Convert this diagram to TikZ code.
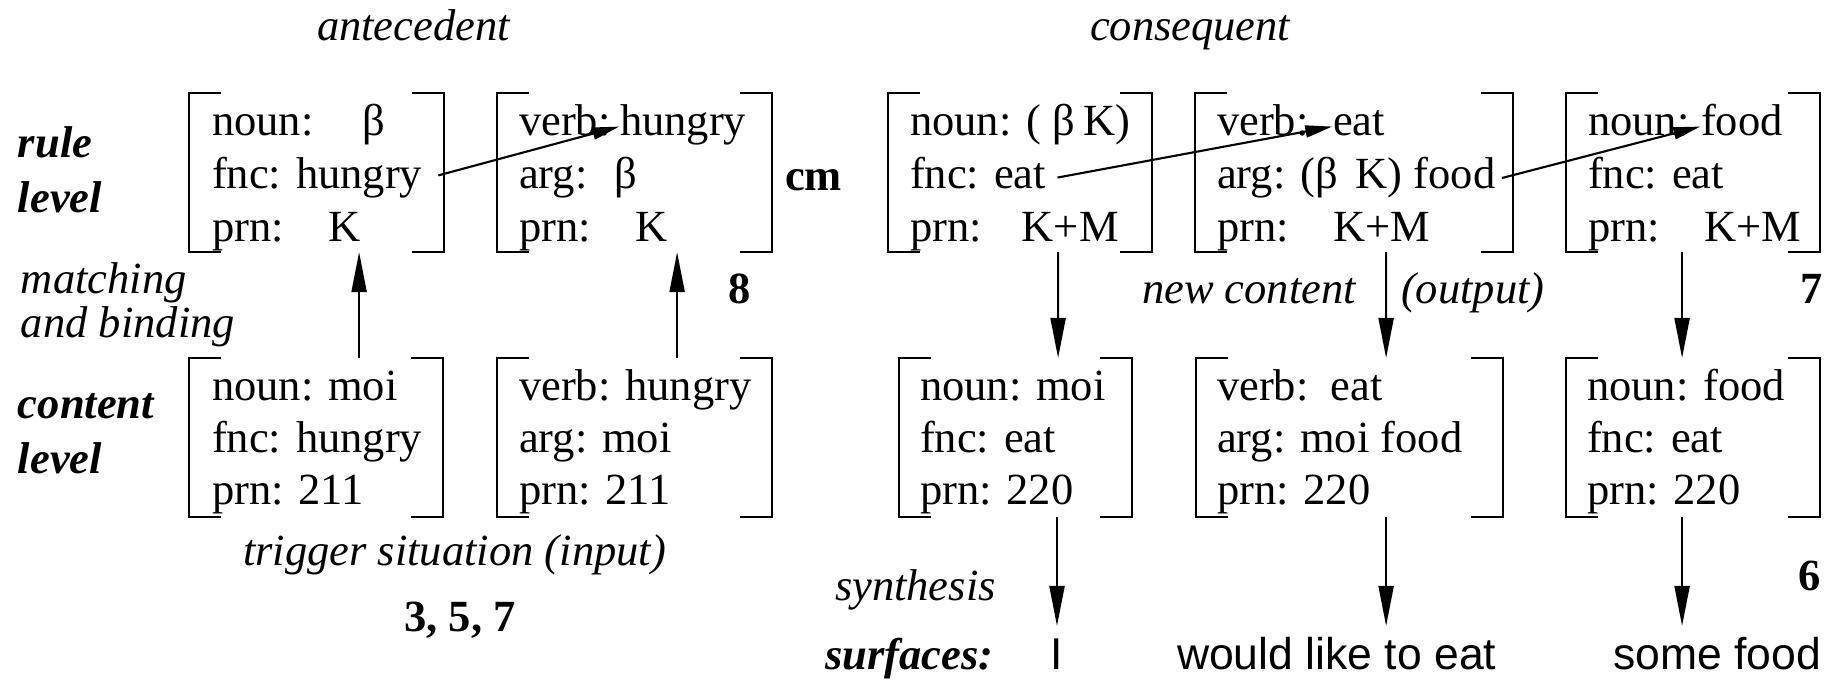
\documentclass[tikz,border=0pt]{standalone}
\usepackage{fontspec}
\setmainfont{Liberation Serif}
\newfontfamily\surffont{Liberation Sans}
\usetikzlibrary{arrows.meta}

\newcommand{\fs}{\fontsize{12.66}{15}\selectfont}
\newcommand{\recbrk}[1]{%
  \draw[brk] (#1.north west) ++(32,0) -- (#1.north west) -- (#1.south west) -- ++(32,0);
  \draw[brk] (#1.north east) ++(-32,0) -- (#1.north east) -- (#1.south east) -- ++(-32,0);}

\tikzset{
  rec/.style={anchor=north west, minimum height=1.59cm, inner sep=0pt, outer sep=0pt},
  brk/.style={line width=0.6pt},
  fld/.style={anchor=text, inner sep=0pt, text height=0.7em, text depth=0.22em, font=\fs},
  lbl/.style={anchor=text, inner sep=0pt, font=\fs\itshape},
  lvl/.style={anchor=text, inner sep=0pt, font=\fs\bfseries\itshape},
  num/.style={anchor=base, inner sep=0pt, font=\fs\bfseries},
  surf/.style={anchor=text, inner sep=0pt, text height=0.72em, font=\surffont\fs},
  link/.style={line width=0.6pt, -{Triangle[length=0.27cm,width=0.12cm]}},
  flow/.style={line width=0.6pt, -{Triangle[length=0.4cm,width=0.15cm]}}
}

\begin{document}
\begin{tikzpicture}[x=0.01cm, y=-0.01cm]
\useasboundingbox (0,0) rectangle (1833,681);

% headings and side labels
\node[lbl] (ante) at (317,40) {antecedent};
\node[lbl] (cons) at (1090,40) {consequent};
\node[lvl] (rule1) at (18,157) {rule};
\node[lvl] (rule2) at (18,212) {level};
\node[lbl] (match1) at (21,293) {matching};
\node[lbl] (match2) at (21,337) {and binding};
\node[lvl] (cont1) at (18,418) {content};
\node[lvl] (cont2) at (18,473) {level};
\node[num, anchor=text] (cm) at (785,190) {cm};

% rule level
\node[rec, minimum width=2.55cm] (ra) at (189,93) {};
\node[rec, minimum width=2.75cm] (rb) at (497,93) {};
\node[rec, minimum width=2.64cm] (rc) at (888,93) {};
\node[rec, minimum width=3.18cm] (rd) at (1195,93) {};
\node[rec, minimum width=2.54cm] (re) at (1566,93) {};

\node[fld] (ra1) at (212,135) {noun:\hspace{1.1em}β};
\node[fld] (ra2) at (212,188) {fnc: hungry};
\node[fld] (ra3) at (212,241) {prn:\hspace{1em}K};

\node[fld] (rb1) at (519,135) {verb:};
\node[fld] (rb1v) at (620,135) {hungry};
\node[fld] (rb2) at (519,188) {arg:\hspace{0.6em}β};
\node[fld] (rb3) at (519,241) {prn:\hspace{1em}K};

\node[fld] (rc1) at (910,135) {noun: ( β\hspace{0.2em}K)};
\node[fld] (rc2) at (910,188) {fnc: eat};
\node[fld] (rc3) at (910,241) {prn:\hspace{0.9em}K+M};

\node[fld] (rd1) at (1217,135) {verb:};
\node[fld] (rd1v) at (1333,135) {eat};
\node[fld] (rd2) at (1217,188) {arg: (β\hspace{0.4em}K) food};
\node[fld] (rd3) at (1217,241) {prn:\hspace{1em}K+M};

\node[fld] (re1) at (1588,135) {noun:};
\node[fld] (re1v) at (1701,135) {food};
\node[fld] (re2) at (1588,188) {fnc: eat};
\node[fld] (re3) at (1588,241) {prn:\hspace{1em}K+M};

% content level
\node[rec, minimum width=2.54cm] (ca) at (189,358) {};
\node[rec, minimum width=2.75cm] (cb) at (497,358) {};
\node[rec, minimum width=2.33cm] (cc) at (899,358) {};
\node[rec, minimum width=3.07cm] (cd) at (1196,358) {};
\node[rec, minimum width=2.54cm] (ce) at (1566,358) {};

\node[fld] (ca1) at (212,400) {noun: moi};
\node[fld] (ca2) at (212,452) {fnc: hungry};
\node[fld] (ca3) at (212,504) {prn: 211};

\node[fld] (cb1) at (519,400) {verb: hungry};
\node[fld] (cb2) at (519,452) {arg: moi};
\node[fld] (cb3) at (519,504) {prn: 211};

\node[fld] (cc1) at (920,400) {noun: moi};
\node[fld] (cc2) at (920,452) {fnc: eat};
\node[fld] (cc3) at (920,504) {prn: 220};

\node[fld] (cd1) at (1217,400) {verb:\hspace{0.5em}eat};
\node[fld] (cd2) at (1217,452) {arg: moi food};
\node[fld] (cd3) at (1217,504) {prn: 220};

\node[fld] (ce1) at (1587,400) {noun: food};
\node[fld] (ce2) at (1587,452) {fnc: eat};
\node[fld] (ce3) at (1587,504) {prn: 220};

\foreach \b in {ra,rb,rc,rd,re,ca,cb,cc,cd,ce} {\recbrk{\b}}

% other labels
\node[num] (n8) at (740,303) {8};
\node[num] (n7) at (1812,303) {7};
\node[num] (n6) at (1810,590) {6};
\node[lbl] (newc) at (1142,303) {new content};
\node[lbl] (outp) at (1401,303) {(output)};
\node[lbl] (trig) at (243,565) {trigger situation (input)};
\node[num] (n357) at (460,631) {3, 5, 7};
\node[lbl] (synth) at (835,600) {synthesis};
\node[lvl] (surfl) at (825,669) {surfaces:};
\node[surf, anchor=base] (sI) at (1057,669) {I};
\node[surf] (swould) at (1177,669) {would like to eat};
\node[surf] (sfood) at (1613,669) {some food};

% connectors
\draw[link, shorten <=0.16cm] (ra2.east) -- (rb1v.west);
\draw[link, shorten <=0.11cm] (rc2.east) -- (rd1v.west);
\draw[link, shorten <=0.06cm] (rd2.east) -- (re1v.west);

\draw[flow] ([xshift=1.7cm]ca.north west) -- ([xshift=1.7cm]ra.south west);
\draw[flow] ([xshift=1.8cm]cb.north west) -- ([xshift=1.8cm]rb.south west);
\draw[flow] ([xshift=1.7cm]rc.south west) -- ([xshift=1.59cm]cc.north west);
\draw[flow] ([xshift=1.91cm]rd.south west) -- ([xshift=1.9cm]cd.north west);
\draw[flow] ([xshift=1.16cm]re.south west) -- ([xshift=1.16cm]ce.north west);

\draw[flow, shorten >=0.17cm] (sI.north |- cc.south) -- (sI.north);
\draw[flow, shorten >=0.17cm] ([xshift=1.9cm]cd.south west) -- ([xshift=1.9cm]cd.south west |- swould.north);
\draw[flow, shorten >=0.17cm] ([xshift=1.16cm]ce.south west) -- ([xshift=1.16cm]ce.south west |- sfood.north);
\end{tikzpicture}
\end{document}
